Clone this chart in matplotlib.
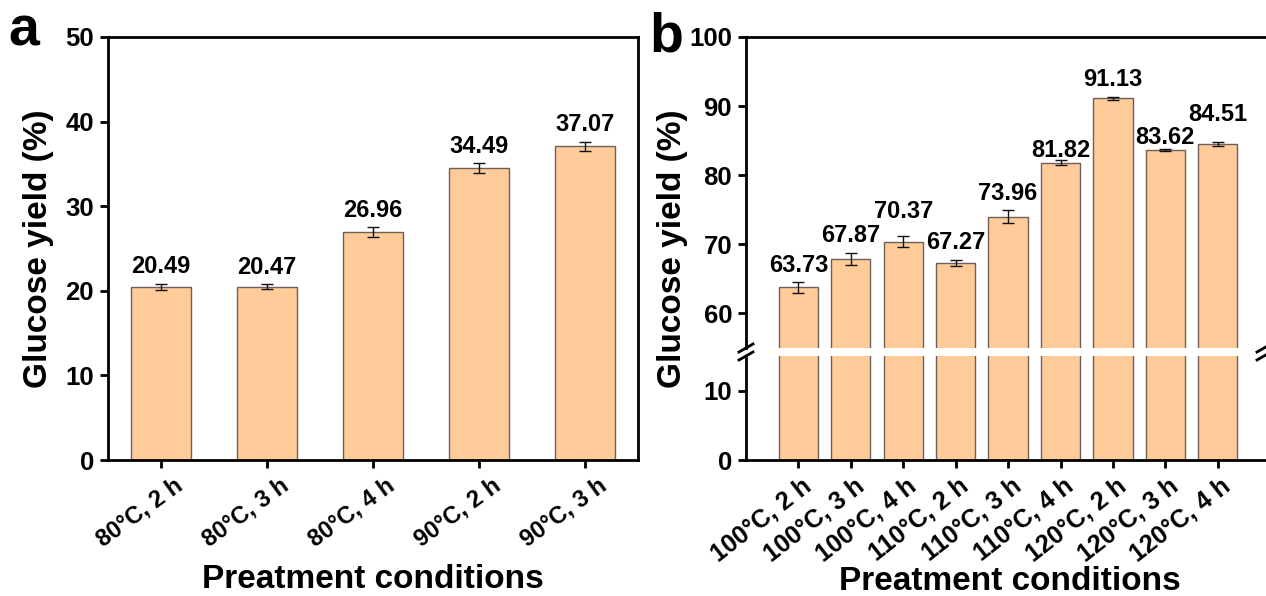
import matplotlib
matplotlib.use("Agg")
import matplotlib.pyplot as plt
import matplotlib.transforms as mtransforms
import numpy as np

plt.rcParams['font.family'] = ['Liberation Sans', 'DejaVu Sans']
plt.rcParams['font.weight'] = 'bold'
plt.rcParams['axes.labelweight'] = 'bold'

# ---------------- data ----------------
cats_a = ['80°C, 2 h', '80°C, 3 h', '80°C, 4 h', '90°C, 2 h', '90°C, 3 h']
vals_a = [20.49, 20.47, 26.96, 34.49, 37.07]
errs_a = [0.35, 0.30, 0.55, 0.60, 0.55]

cats_b = ['100°C, 2 h', '100°C, 3 h', '100°C, 4 h', '110°C, 2 h', '110°C, 3 h',
          '110°C, 4 h', '120°C, 2 h', '120°C, 3 h', '120°C, 4 h']
vals_b = [63.73, 67.87, 70.37, 67.27, 73.96, 81.82, 91.13, 83.62, 84.51]
errs_b = [0.75, 0.85, 0.85, 0.45, 0.95, 0.30, 0.20, 0.15, 0.25]

yticks_a = [0, 10, 20, 30, 40, 50]
yticks_b_low = [0, 10]
yticks_b_up = [60, 70, 80, 90, 100]

# ---------------- style ----------------
bar_color = '#FFCC99'
edge_color = '#6e6058'
spine_w = 2.0
tick_fs = 18.5
val_fs = 17
label_fs = 24
xtick_fs_a = 17
xtick_fs_b = 18
nudge_b = [0, 0, 5, 0, 0, -5, 0, -4, 8]  # label nudges (points)

W, H = 1266, 596
fig = plt.figure(figsize=(W / 100, H / 100), dpi=100)


def fx(px):
    return px / W


def fy(py):
    return 1 - py / H


def style_ax(ax):
    for s in ax.spines.values():
        s.set_linewidth(spine_w)
    ax.tick_params(axis='both', direction='out', length=6, width=spine_w,
                   labelsize=tick_fs, pad=4)
    for lab in ax.get_yticklabels():
        lab.set_fontweight('bold')


# ---------------- panel a ----------------
axa = fig.add_axes([fx(108), fy(460), fx(638) - fx(108), fy(37) - fy(460)])
xa = np.arange(len(vals_a))
axa.bar(xa, vals_a, width=0.56, color=bar_color, edgecolor=edge_color, linewidth=1.0, zorder=2)
axa.errorbar(xa, vals_a, yerr=errs_a, fmt='none', ecolor='#111111', elinewidth=1.0,
             capsize=4, capthick=1.0, zorder=3)
for xi, v, e in zip(xa, vals_a, errs_a):
    axa.annotate(f'{v:.2f}', xy=(xi, v + e), xytext=(0, 4), textcoords='offset points',
                 ha='center', va='bottom', fontsize=val_fs, fontweight='bold')
axa.set_xlim(-0.5, 4.5)
axa.set_ylim(0, 50)
axa.set_yticks(yticks_a)
axa.set_xticks(xa)
style_ax(axa)
axa.set_xticklabels(cats_a, rotation=36, ha='right', rotation_mode='anchor',
                    fontsize=xtick_fs_a, fontweight='bold')
shift_a = mtransforms.ScaledTranslation(12 / 100, 0, fig.dpi_scale_trans)
for lab in axa.get_xticklabels():
    lab.set_transform(lab.get_transform() + shift_a)
axa.set_ylabel('Glucose yield (%)', fontsize=label_fs, fontweight='bold', labelpad=8)
axa.set_xlabel('Preatment conditions', fontsize=label_fs, fontweight='bold', va='center')
axa.xaxis.set_label_coords(0.5, (460 - 579) / 423)

# ---------------- panel b (broken axis) ----------------
left_b = fx(746)
right_b = 1.0
axb_low = fig.add_axes([left_b, fy(460), right_b - left_b, fy(356) - fy(460)])
axb_up = fig.add_axes([left_b, fy(347.7), right_b - left_b, fy(37) - fy(347.7)])
xb = np.arange(len(vals_b))
for ax in (axb_low, axb_up):
    ax.bar(xb, vals_b, width=0.75, color=bar_color, edgecolor=edge_color, linewidth=1.0, zorder=2)
    ax.set_xlim(-1, 8.92)
axb_up.errorbar(xb, vals_b, yerr=errs_b, fmt='none', ecolor='#111111', elinewidth=1.0,
                capsize=4, capthick=1.0, zorder=3)
for xi, v, e, n in zip(xb, vals_b, errs_b, nudge_b):
    axb_up.annotate(f'{v:.2f}', xy=(xi, v + e), xytext=(0, 4 + n), textcoords='offset points',
                    ha='center', va='bottom', fontsize=val_fs, fontweight='bold')

axb_low.set_ylim(0, 15)
axb_up.set_ylim(55, 100)
axb_low.set_yticks(yticks_b_low)
axb_up.set_yticks(yticks_b_up)
axb_low.set_xticks(xb)
axb_up.set_xticks([])

axb_low.spines['top'].set_visible(False)
axb_low.spines['right'].set_visible(False)
axb_up.spines['bottom'].set_visible(False)
axb_up.spines['right'].set_visible(False)
style_ax(axb_low)
style_ax(axb_up)
axb_low.set_xticklabels(cats_b, rotation=38, ha='right', rotation_mode='anchor',
                        fontsize=xtick_fs_b, fontweight='bold')
shift_b = mtransforms.ScaledTranslation(3 / 100, 0, fig.dpi_scale_trans)
for lab in axb_low.get_xticklabels():
    lab.set_transform(lab.get_transform() + shift_b)
axb_up.tick_params(axis='x', length=0)

# break marks
for xpx in (746, 1264):
    for ypx in (348, 356):
        fig.add_artist(plt.Line2D([fx(xpx - 7), fx(xpx + 7)], [fy(ypx + 4), fy(ypx - 4)],
                                  color='black', linewidth=2.0, transform=fig.transFigure,
                                  clip_on=False))

fig.text(fx(673), (fy(37) + fy(460)) / 2, 'Glucose yield (%)', rotation=90,
         ha='center', va='center', fontsize=label_fs, fontweight='bold')
axb_low.set_xlabel('Preatment conditions', fontsize=label_fs, fontweight='bold', va='center')
axb_low.xaxis.set_label_coords((1010 - 746) / (1266 - 746), (460 - 581) / 104)

# panel letters
fig.text(fx(8), fy(45), 'a', fontsize=40, fontweight='bold', ha='left', va='baseline')
fig.text(fx(649), fy(52), 'b', fontsize=40, fontweight='bold', ha='left', va='baseline')

fig.savefig('out.png', dpi=100)
